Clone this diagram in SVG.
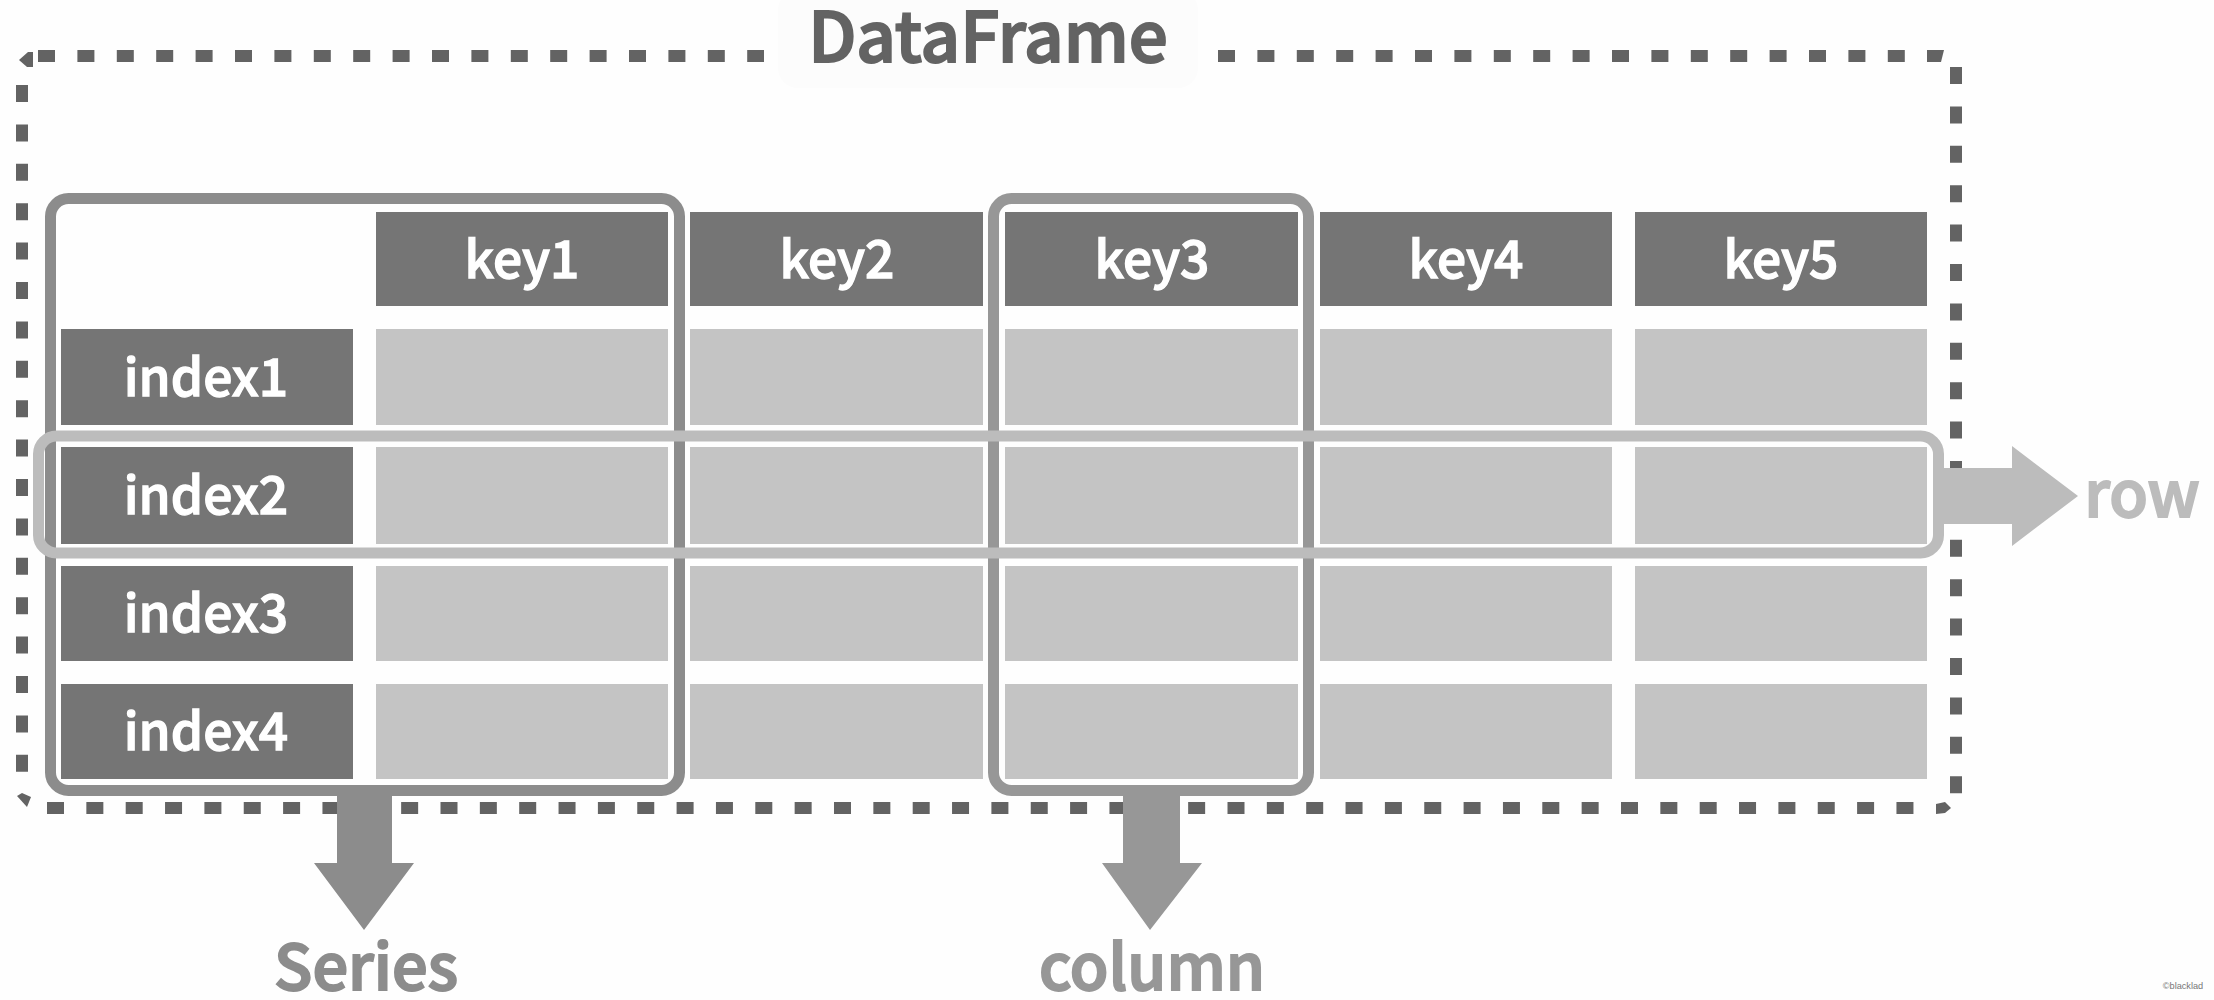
<svg xmlns="http://www.w3.org/2000/svg" width="2214" height="1000" viewBox="0 0 2214 1000">
<style>
.t{font-family:"Noto Sans CJK SC","Noto Sans",sans-serif;font-weight:500;text-anchor:middle;stroke-width:1.300px}
.h{fill:#757575}.c{fill:#c4c4c4}
.w{fill:#fff;stroke:#fff;font-size:51.500px}
.d{fill:none;stroke:#636363;stroke-width:12;stroke-dasharray:17 22.4}
.k{fill:#636363}
.b{fill:none;stroke-width:11}
</style>
<rect width="2214" height="1000" fill="#fefefe"/>
<g id="frame">
<path class="d" d="M38 56H764"/><path class="d" d="M1218 56H1927"/>
<path class="k" d="M1927 50H1944L1941 62H1927Z"/>
<path class="k" d="M19 60L28 52H33V67H27Z"/>
<path class="d" d="M22 85V775"/><path class="d" d="M1956 67V795"/>
<path class="k" d="M17 796L22 793L31 797L27 807Z"/>
<path class="d" d="M47 808H1915" style="stroke-dasharray:17 22.35"/>
<path class="k" d="M1936 814L1945 813L1951 808L1945 802L1936 804Z"/>
<rect x="778" y="-10" width="420" height="98" rx="20" fill="#fcfcfc"/>
<text class="t" x="988" y="62" font-size="69" fill="#636363" stroke="#636363" style="stroke-width:2px">DataFrame</text>
</g>
<g id="headers">
<rect class="h" x="376" y="212" width="292" height="94"/><text class="t w" x="522" y="278">key1</text>
<rect class="h" x="690" y="212" width="293" height="94"/><text class="t w" x="837" y="278">key2</text>
<rect class="h" x="1005" y="212" width="293" height="94"/><text class="t w" x="1152" y="278">key3</text>
<rect class="h" x="1320" y="212" width="292" height="94"/><text class="t w" x="1466" y="278">key4</text>
<rect class="h" x="1635" y="212" width="292" height="94"/><text class="t w" x="1781" y="278">key5</text>
</g>
<g id="index">
<rect class="h" x="61" y="329" width="292" height="96"/><text class="t w" x="206" y="396">index1</text>
<rect class="h" x="61" y="447" width="292" height="97"/><text class="t w" x="206" y="514">index2</text>
<rect class="h" x="61" y="566" width="292" height="95"/><text class="t w" x="206" y="632">index3</text>
<rect class="h" x="61" y="684" width="292" height="95"/><text class="t w" x="206" y="750">index4</text>
</g>
<g id="cells">
<rect class="c" x="376" y="329" width="292" height="96"/><rect class="c" x="690" y="329" width="293" height="96"/><rect class="c" x="1005" y="329" width="293" height="96"/><rect class="c" x="1320" y="329" width="292" height="96"/><rect class="c" x="1635" y="329" width="292" height="96"/>
<rect class="c" x="376" y="447" width="292" height="97"/><rect class="c" x="690" y="447" width="293" height="97"/><rect class="c" x="1005" y="447" width="293" height="97"/><rect class="c" x="1320" y="447" width="292" height="97"/><rect class="c" x="1635" y="447" width="292" height="97"/>
<rect class="c" x="376" y="566" width="292" height="95"/><rect class="c" x="690" y="566" width="293" height="95"/><rect class="c" x="1005" y="566" width="293" height="95"/><rect class="c" x="1320" y="566" width="292" height="95"/><rect class="c" x="1635" y="566" width="292" height="95"/>
<rect class="c" x="376" y="684" width="292" height="95"/><rect class="c" x="690" y="684" width="293" height="95"/><rect class="c" x="1005" y="684" width="293" height="95"/><rect class="c" x="1320" y="684" width="292" height="95"/><rect class="c" x="1635" y="684" width="292" height="95"/>
</g>
<g id="connectors">
<rect class="b" x="50.500" y="198.500" width="629" height="592" rx="18" stroke="#8c8c8c"/>
<path d="M337 790V863H314L364 930L414 863H392V790Z" fill="#8c8c8c"/>
<rect class="b" x="993.500" y="198.500" width="315" height="592" rx="18" stroke="#979797"/>
<path d="M1123 790V863H1102L1150 930L1202 863H1180V790Z" fill="#979797"/>
<rect class="b" x="38.500" y="436" width="1900" height="117" rx="18" stroke="#bcbcbc"/>
<path d="M1938 468H2012V446L2078 496L2012 546V524H1938Z" fill="#bcbcbc"/>
</g>
<g id="labels">
<text class="t" x="2142" y="517" font-size="63" fill="#bcbcbc" stroke="#bcbcbc" style="stroke-width:2px">row</text>
<text class="t" x="366" y="990" font-size="63" fill="#8c8c8c" stroke="#8c8c8c" style="stroke-width:2px">Series</text>
<text class="t" x="1152" y="990" font-size="63" fill="#979797" stroke="#979797" style="stroke-width:2px">column</text>
<text x="2183" y="989" font-size="9.200" text-anchor="middle" font-family="Liberation Sans,sans-serif" fill="#777">©blacklad</text>
</g>
</svg>
